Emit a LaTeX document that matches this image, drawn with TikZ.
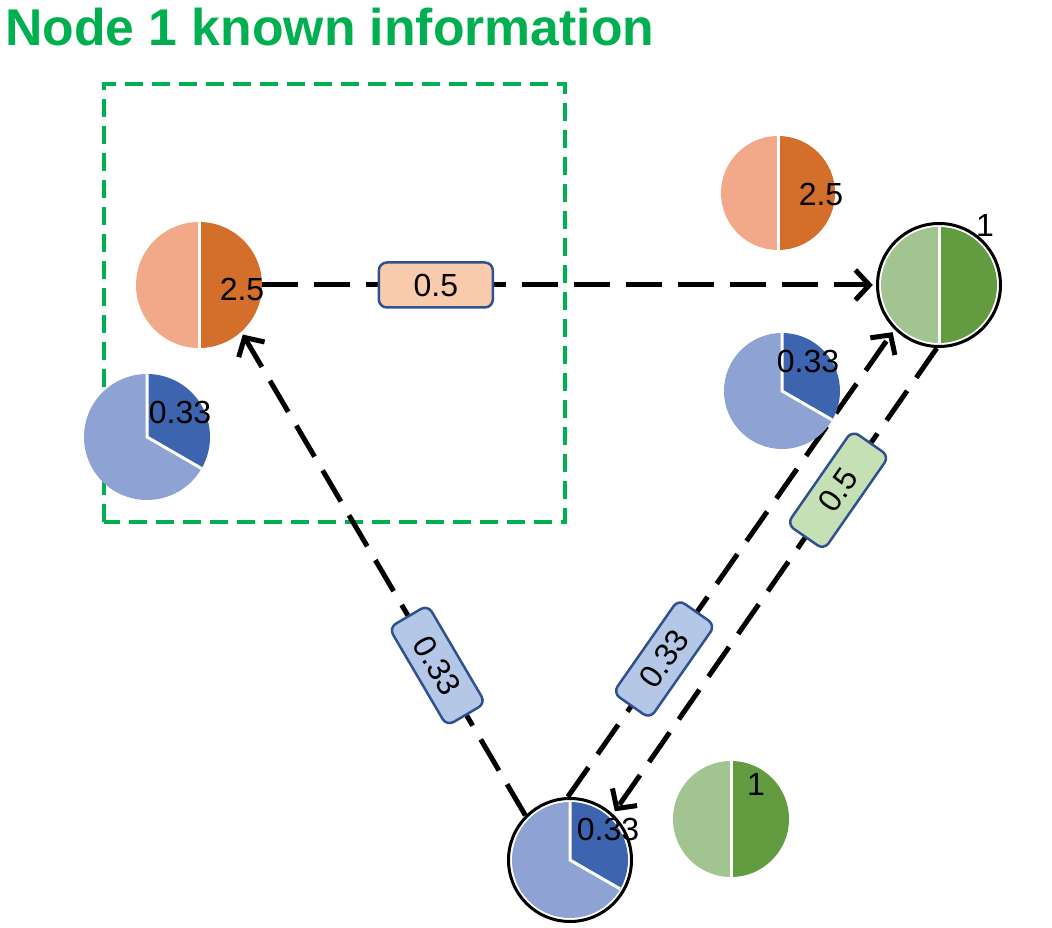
\documentclass[tikz,border=0pt]{standalone}
\usepackage{fontspec}
\setmainfont{Liberation Sans}
\usetikzlibrary{arrows.meta}
\definecolor{tgreen}{HTML}{00B050}
\definecolor{olight}{RGB}{241,169,137}
\definecolor{odark}{RGB}{211,111,43}
\definecolor{blight}{RGB}{143,162,212}
\definecolor{bdark}{RGB}{60,100,175}
\definecolor{glight}{RGB}{162,196,145}
\definecolor{gdark}{RGB}{98,155,64}
\definecolor{boxline}{HTML}{2F528F}
\definecolor{obox}{HTML}{F8CBAD}
\definecolor{bbox}{HTML}{B4C7E7}
\definecolor{gbox}{HTML}{C5E0B4}
\newcommand\halfpie[4]{%
  \fill[#3] (#1) -- ++(90:#2) arc[start angle=90,end angle=270,radius=#2] -- cycle;
  \fill[#4] (#1) -- ++(-90:#2) arc[start angle=-90,end angle=90,radius=#2] -- cycle;
  \draw[white,line width=3pt] (#1) ++(90:#2) -- ++(0,-2*#2);
}
\newcommand\thirdpie[2]{%
  \fill[blight] (#1) -- ++(90:#2) arc[start angle=90,end angle=330,radius=#2] -- cycle;
  \fill[bdark] (#1) -- ++(-30:#2) arc[start angle=-30,end angle=90,radius=#2] -- cycle;
  \draw[white,line width=3pt] (#1) ++(90:#2) -- (#1) -- ++(-30:#2);
}
\newcommand\ringnode[1]{%
  \draw[black,line width=3pt,fill=white] (#1) circle[radius=61.5];
}
\begin{document}
\begin{tikzpicture}[x=1pt,y=1pt,
  every node/.style={font=\fontsize{32}{38}\selectfont},
  nodecirc/.style={circle,minimum size=126pt,inner sep=0pt},
  edge/.style={line width=5pt,dash pattern=on 36pt off 16pt,
    -{Straight Barb[length=14pt,width=30pt]},shorten >=3pt},
  lbl/.style={draw=boxline,solid,line width=2.5pt,rounded corners=8pt,
    minimum width=114pt,minimum height=45pt,inner sep=0pt},
  greenrect/.style={draw=tgreen,line width=4pt,dash pattern=on 18pt off 9pt},
  txt/.style={inner sep=0pt}]
\useasboundingbox (0,0) rectangle (1052,927);
\node[anchor=base west,inner sep=0pt,text=tgreen,
  font=\fontsize{51.7}{60}\selectfont\bfseries] (title) at (5,881)
  {Node 1 known information};
\draw[greenrect] (104,405) rectangle (565,843);
% named nodes
\node[nodecirc] (A) at (199,642) {};
\node[nodecirc] (B) at (939,642) {};
\node[nodecirc] (C) at (570,67) {};
% edges
\draw[edge] (A.east) -- node[lbl,fill=obox,pos=0.283] {0.5} (B.west);
\draw[edge] (C.135) -- node[lbl,fill=bbox,pos=0.31,sloped] {0.33} (A.-48);
\draw[edge] (C.92) -- node[lbl,fill=bbox,pos=0.295,sloped] {0.33} (B.-135);
\draw[edge] (B.-92) -- node[lbl,fill=gbox,pos=0.305,sloped] {0.5} (C.47);
% pies
\halfpie{A.center}{63}{olight}{odark}
\thirdpie{147,490}{63}
\halfpie{778,734}{57}{olight}{odark}
\ringnode{B.center}
\halfpie{B.center}{58}{glight}{gdark}
\thirdpie{782,536}{58}
\ringnode{C.center}
\thirdpie{C.center}{58}
\halfpie{731,108}{58}{glight}{gdark}
% labels
\node[txt] (lA) at (242,638) {2.5};
\node[txt] (lb1) at (180,515) {0.33};
\node[txt] (lo2) at (821,733) {2.5};
\node[txt] (lB) at (985,702) {1};
\node[txt] (lb2) at (808,566) {0.33};
\node[txt] (lC) at (608,98) {0.33};
\node[txt] (lg2) at (756,143) {1};
\end{tikzpicture}
\end{document}
